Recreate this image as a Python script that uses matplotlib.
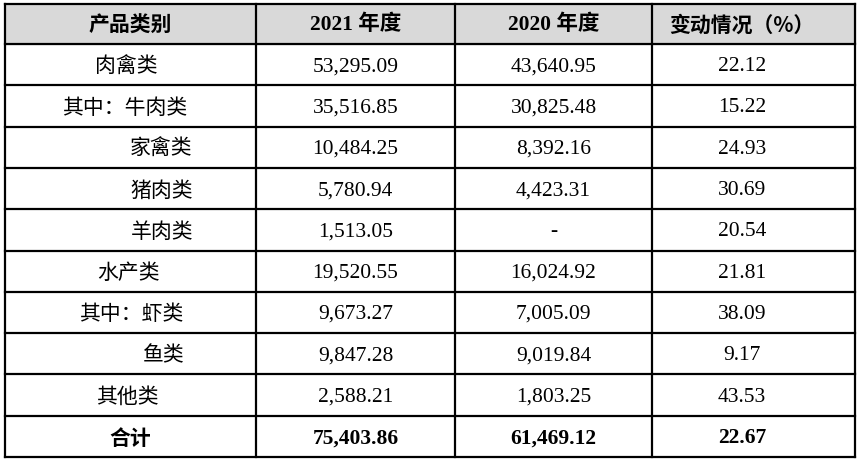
import matplotlib
matplotlib.use("Agg")
import matplotlib.pyplot as plt

headers = ["产品类别", "2021 年度", "2020 年度", "变动情况（%）"]
categories = ["肉禽类", "其中：牛肉类", "家禽类", "猪肉类", "羊肉类", "水产类", "其中：虾类", "鱼类", "其他类", "合计"]
v2021 = ["53,295.09", "35,516.85", "10,484.25", "5,780.94", "1,513.05", "19,520.55", "9,673.27", "9,847.28", "2,588.21", "75,403.86"]
v2020 = ["43,640.95", "30,825.48", "8,392.16", "4,423.31", "-", "16,024.92", "7,005.09", "9,019.84", "1,803.25", "61,469.12"]
change = ["22.12", "15.22", "24.93", "30.69", "20.54", "21.81", "38.09", "9.17", "43.53", "22.67"]
label_x = [95, 62, 130, 130, 131, 97, 79, 143, 96, None]

W, H = 861, 466
fig = plt.figure(figsize=(W/100, H/100), dpi=100)
ax = fig.add_axes([0, 0, 1, 1])
ax.set_xlim(0, W); ax.set_ylim(H, 0); ax.axis("off")

cols = [5, 256, 455, 652, 855]
rows = [4, 44] + [44 + 41.3*i for i in range(1, 11)]
ax.fill_between([cols[0], cols[-1]], rows[0], rows[1], color="#d9d9d9", zorder=0)
for y in rows:
    ax.plot([cols[0], cols[-1]], [y, y], color="black", lw=1.6)
for x in cols:
    ax.plot([x, x], [rows[0], rows[-1]], color="black", lw=1.6)

cjk = ["Noto Sans CJK SC", "DejaVu Sans"]
serif = ["Liberation Serif", "Noto Sans CJK SC"]
centers = [(cols[i]+cols[i+1])/2 for i in range(4)]
centers[3] = 742
hy = (rows[0]+rows[1])/2 + 1
ax.text(centers[0], hy, headers[0], family=cjk, fontsize=15, weight="bold", ha="center", va="center")
for i in (1, 2):
    ax.text(centers[i], hy, headers[i], family=serif, fontsize=15.5, weight="bold", ha="center", va="center")
ax.text(centers[3], hy, headers[3], family=cjk, fontsize=15, weight="bold", ha="center", va="center")

for r in range(10):
    y = (rows[r+1]+rows[r+2])/2 + 2
    w = "bold" if r == 9 else "normal"
    if label_x[r] is None:
        ax.text(130, y, categories[r], family=cjk, fontsize=15, weight=w, ha="center", va="center")
    else:
        ax.text(label_x[r], y, categories[r], family=cjk, fontsize=15, weight=w, ha="left", va="center")
    for i, vals in ((1, v2021), (2, v2020), (3, change)):
        ax.text(centers[i], y, vals[r], family=serif, fontsize=15.5, weight=w, ha="center", va="center")

fig.savefig("out.png", dpi=100)
